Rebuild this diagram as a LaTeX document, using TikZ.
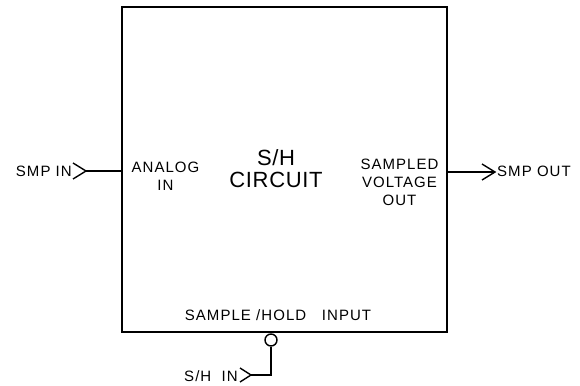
\documentclass[tikz,border=0pt]{standalone}
\usepackage{fontspec}
\setmainfont{Liberation Sans}[LetterSpace=7]
\newfontfamily\bigfont{Liberation Sans}[LetterSpace=3]
\usepackage{tikz}
\usetikzlibrary{positioning,calc}

\begin{document}
\begin{tikzpicture}[
  x=1pt, y=-1pt,
  blk/.style={draw, line width=1.6pt, minimum width=325pt, minimum height=325pt, inner sep=0pt},
  lbl/.style={font=\fontsize{15}{18}\selectfont, align=center, inner sep=0pt},
  big/.style={font=\bigfont\fontsize{22}{22}\selectfont, align=center, inner sep=0pt},
  wire/.style={line width=1.4pt},
  chev/.style={line width=1.4pt, line join=miter}
]
\useasboundingbox (0,0) rectangle (580,385);
% the sample and hold block
\node[blk] (SH) at (284.5,169.5) {};
\node[big] (title) at (276,169) {S/H\\CIRCUIT};
\node[lbl] (ain) at (165.5,176) {ANALOG\\IN};
\node[lbl] (vout) at (399.5,182) {SAMPLED\\VOLTAGE\\OUT};
\node[lbl] (shin) at (278,315) {SAMPLE /HOLD \ \ INPUT};
% analog input
\coordinate (inj) at (86,171);
\node[lbl, anchor=east] (smpin) at (72,171) {SMP IN};
\draw[wire] (inj) -- (inj -| SH.west);
\draw[chev] ($(inj)+(-13,-8)$) -- (inj) -- ($(inj)+(-13,8)$);
% sampled output
\coordinate (outj) at (495,172);
\node[lbl, anchor=west] (smpout) at (497,171) {SMP OUT};
\draw[wire] (outj -| SH.east) -- (outj);
\draw[chev] ($(outj)+(-13,-8)$) -- (outj) -- ($(outj)+(-13,8)$);
% sample / hold control, inverted input
\node[draw, circle, line width=1.4pt, minimum size=12pt, inner sep=0pt] (bub) at (271,340) {};
\coordinate (ctlj) at (251,375);
\node[lbl, anchor=east] (shlbl) at (238,376) {S/H \ IN};
\draw[wire] (bub.south) |- (ctlj);
\draw[chev] ($(ctlj)+(-11,-7)$) -- (ctlj) -- ($(ctlj)+(-11,7)$);
\end{tikzpicture}
\end{document}
